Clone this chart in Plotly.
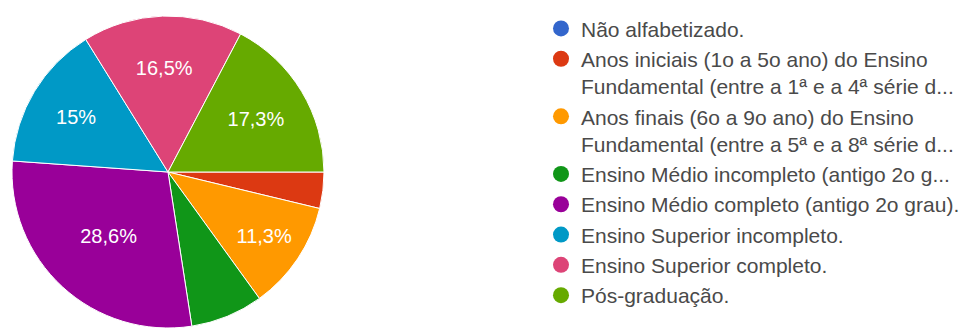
import plotly.graph_objects as go

# Escolaridade dos respondentes (contagens por categoria)
categories = [
    "Não alfabetizado.",
    "Anos iniciais (1o a 5o ano) do Ensino<br>Fundamental (entre a 1ª e a 4ª série d...",
    "Anos finais (6o a 9o ano) do Ensino<br>Fundamental (entre a 5ª e a 8ª série d...",
    "Ensino Médio incompleto (antigo 2o g...",
    "Ensino Médio completo (antigo 2o grau).",
    "Ensino Superior incompleto.",
    "Ensino Superior completo.",
    "Pós-graduação.",
]
counts = [0, 5, 15, 10, 38, 20, 22, 23]
colors = ["#3366cc", "#dc3912", "#ff9900", "#109618",
          "#990099", "#0099c6", "#dd4477", "#66aa00"]

total = sum(counts)


def pct_label(v):
    p = v / total * 100
    if p < 10:
        return ""
    s = f"{p:.1f}".rstrip("0").rstrip(".")
    return s.replace(".", ",") + "%"


slice_text = [pct_label(v) for v in counts]

W, H = 963, 332
cx, cy, r = 168, 172, 156
FONT = "Arial, Liberation Sans, sans-serif"

fig = go.Figure()
fig.add_trace(go.Pie(
    labels=categories,
    values=counts,
    text=slice_text,
    texttemplate="%{text}",
    textposition="inside",
    insidetextorientation="horizontal",
    textfont=dict(family=FONT, size=20, color="white"),
    marker=dict(colors=colors, line=dict(color="white", width=1)),
    sort=False,
    direction="clockwise",
    rotation=90,
    showlegend=False,
    hoverinfo="label+percent",
    domain=dict(x=[(cx - r) / W, (cx + r) / W], y=[(H - cy - r) / H, (H - cy + r) / H]),
))

# Legend entries with round markers
for name, col in zip(categories, colors):
    fig.add_trace(go.Scatter(
        x=[None], y=[None], mode="markers", name=name,
        marker=dict(color=col, size=16, symbol="circle"),
        showlegend=True, hoverinfo="skip",
    ))

fig.update_layout(
    width=W, height=H,
    margin=dict(l=0, r=0, t=0, b=0, autoexpand=False),
    paper_bgcolor="white",
    plot_bgcolor="white",
    xaxis=dict(visible=False),
    yaxis=dict(visible=False),
    legend=dict(
        x=541 / W, xanchor="left",
        y=0.975, yanchor="top",
        valign="top",
        font=dict(family=FONT, size=21, color="#4a4a4a"),
        itemsizing="trace",
        tracegroupgap=0,
        bgcolor="rgba(0,0,0,0)",
    ),
)

fig.write_html("out.html")
